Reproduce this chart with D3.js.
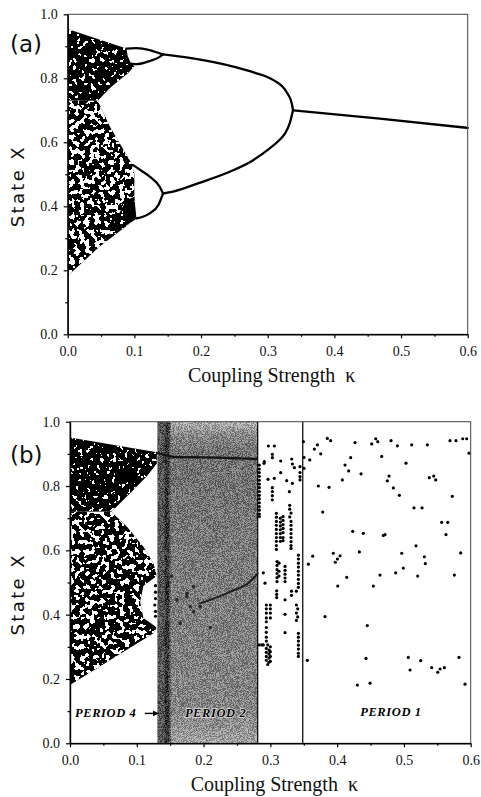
<!DOCTYPE html>
<html>
<head>
<meta charset="utf-8">
<script src="https://cdn.jsdelivr.net/npm/d3@7"></script>
<style>
  body { margin: 0; background: #fff; }
  svg { display: block; }
</style>
</head>
<body>
<div id="chart"></div>
<script>
// Axis ticks
const xTicks = [0, 0.1, 0.2, 0.3, 0.4, 0.5, 0.6];
const xMinorTicks = [0.05, 0.15, 0.25, 0.35, 0.45, 0.55];
const yTicks = [0, 0.2, 0.4, 0.6, 0.8, 1.0];
const yMinorTicks = [0.1, 0.3, 0.5, 0.7, 0.9];

// Panel (a): chaotic band outlines [kappa, X]
const chaosDenseA = [[0, 0.954], [0.088, 0.893], [0.09, 0.87], [0.095, 0.846], [0.1, 0.838],
  [0.09, 0.815], [0.075, 0.79], [0.063, 0.769], [0.045, 0.73], [0, 0.73]];
const chaosSparseA = [[0, 0.73], [0.045, 0.73], [0.063, 0.65], [0.08, 0.59], [0.096, 0.534],
  [0.1, 0.5], [0.1, 0.4], [0.103, 0.362], [0.048, 0.274], [0, 0.183]];
const chaosSolidA = [[0.06, 0.3], [0.103, 0.362], [0.1, 0.43], [0.088, 0.42], [0.07, 0.35]];

// Panel (a): periodic branches
const p4TopHighA = [[0.088, 0.893], [0.103, 0.894], [0.123, 0.888], [0.138, 0.878], [0.143, 0.875]];
const p4TopLowA = [[0.095, 0.846], [0.103, 0.844], [0.123, 0.854], [0.138, 0.867], [0.143, 0.875]];
const p4BotHighA = [[0.098, 0.529], [0.11, 0.512], [0.123, 0.4925], [0.138, 0.461], [0.143, 0.44]];
const p4BotLowA = [[0.103, 0.362], [0.123, 0.378], [0.136, 0.404], [0.143, 0.44]];
const p2UpperA = [[0.143, 0.875], [0.183, 0.864], [0.25, 0.836], [0.28, 0.818], [0.308, 0.795],
  [0.328, 0.758], [0.336, 0.722], [0.338, 0.70]];
const p2LowerA = [[0.143, 0.44], [0.158, 0.446], [0.2, 0.475], [0.243, 0.508], [0.275, 0.54],
  [0.303, 0.581], [0.318, 0.608], [0.326, 0.628], [0.333, 0.659], [0.338, 0.70]];
const p1A = [[0.338, 0.70], [0.468, 0.674], [0.6, 0.645]];

// Panel (b): chaotic band outlines
const chaosDenseB = [[0, 0.951], [0.13, 0.905], [0.13, 0.87], [0.115, 0.83], [0.095, 0.788],
  [0.07, 0.736], [0.062, 0.72], [0, 0.72]];
const chaosSparseB = [[0, 0.72], [0.062, 0.72], [0.085, 0.674], [0.11, 0.611], [0.125, 0.56],
  [0.13, 0.52], [0.11, 0.49], [0.105, 0.44], [0.11, 0.39], [0.13, 0.36], [0.125, 0.342], [0, 0.181]];
const chaosEdgeB = [[0.128, 0.49], [0.128, 0.47], [0.128, 0.45], [0.127, 0.43], [0.128, 0.41], [0.128, 0.395]];

// Panel (b): regions along kappa
const darkBandB = [0.131, 0.151];
const darkCoreB = [0.142, 0.148];
const greyBandB = [0.151, 0.281];
const dividerB = 0.3485;

// Panel (b): period-2 branches and transients inside the grey band
const p2UpperB = [[0.13, 0.903], [0.16, 0.89], [0.2, 0.889], [0.28, 0.884]];
const p2LowerB = [[0.195, 0.435], [0.2396, 0.471], [0.2695, 0.5025], [0.281, 0.528]];
const transientB = [[0.16, 0.446], [0.175, 0.466], [0.195, 0.425], [0.165, 0.373], [0.185, 0.487],
  [0.175, 0.456], [0.18, 0.425], [0.185, 0.409], [0.152, 0.52], [0.21, 0.36]];

// Panel (b): measured states beyond the grey band
const scatterB = [
  [0.2835, 0.865], [0.2835, 0.853], [0.2835, 0.842], [0.2835, 0.83], [0.2835, 0.818], [0.2835, 0.806],
  [0.2835, 0.795], [0.2835, 0.783], [0.2835, 0.771], [0.2835, 0.76], [0.2835, 0.748], [0.2835, 0.736],
  [0.2835, 0.725], [0.2835, 0.713], [0.2835, 0.705], [0.291, 0.876], [0.2835, 0.306], [0.2875, 0.306],
  [0.2895, 0.306], [0.292, 0.498], [0.2895, 0.53],
  [0.294, 0.43], [0.294, 0.418], [0.294, 0.405], [0.3, 0.43], [0.3, 0.418], [0.3, 0.405], [0.294, 0.39],
  [0.294, 0.378], [0.3, 0.39], [0.294, 0.36], [0.294, 0.345], [0.294, 0.33], [0.294, 0.318],
  [0.296, 0.306], [0.294, 0.295], [0.298, 0.29], [0.294, 0.283], [0.298, 0.278], [0.294, 0.27],
  [0.298, 0.265], [0.294, 0.258], [0.298, 0.252], [0.296, 0.245], [0.3, 0.3], [0.3, 0.285],
  [0.3, 0.27], [0.3, 0.255],
  [0.309, 0.715], [0.309, 0.703], [0.309, 0.69], [0.309, 0.678], [0.309, 0.665], [0.309, 0.652],
  [0.309, 0.64], [0.309, 0.628], [0.309, 0.615], [0.309, 0.603], [0.315, 0.7], [0.315, 0.688],
  [0.315, 0.676], [0.315, 0.664], [0.315, 0.652], [0.315, 0.64], [0.315, 0.628], [0.319, 0.705],
  [0.319, 0.693], [0.319, 0.68], [0.319, 0.668], [0.319, 0.655], [0.319, 0.64], [0.319, 0.63],
  [0.31, 0.565], [0.31, 0.553], [0.31, 0.54], [0.31, 0.528], [0.31, 0.515], [0.31, 0.503],
  [0.313, 0.56], [0.313, 0.535], [0.313, 0.52], [0.322, 0.55], [0.322, 0.538], [0.322, 0.526],
  [0.322, 0.514], [0.322, 0.503],
  [0.329, 0.74], [0.329, 0.728], [0.331, 0.716], [0.329, 0.704], [0.331, 0.69], [0.331, 0.678],
  [0.331, 0.665], [0.331, 0.652], [0.331, 0.64], [0.331, 0.627], [0.331, 0.615], [0.331, 0.606],
  [0.342, 0.585], [0.342, 0.573], [0.342, 0.56], [0.342, 0.548], [0.342, 0.535], [0.342, 0.523],
  [0.342, 0.51], [0.342, 0.497], [0.342, 0.485], [0.339, 0.473], [0.339, 0.43], [0.341, 0.418],
  [0.339, 0.405], [0.341, 0.393], [0.339, 0.382], [0.342, 0.342], [0.342, 0.33], [0.342, 0.318],
  [0.342, 0.305], [0.342, 0.293], [0.342, 0.28], [0.342, 0.27],
  [0.303, 0.795], [0.303, 0.783], [0.303, 0.77], [0.303, 0.757],
  [0.322, 0.446], [0.322, 0.401], [0.322, 0.344], [0.3095, 0.474], [0.3095, 0.463], [0.3095, 0.453],
  [0.3317, 0.473], [0.3317, 0.46],
  [0.297, 0.9245], [0.306, 0.9245], [0.303, 0.8986], [0.303, 0.888], [0.2905, 0.8706], [0.3155, 0.8778],
  [0.332, 0.884], [0.333, 0.8685], [0.336, 0.857], [0.3444, 0.86], [0.2965, 0.8209], [0.3059, 0.824],
  [0.3155, 0.8414], [0.3245, 0.8166], [0.333, 0.8085], [0.3285, 0.7824], [0.3444, 0.829],
  [0.3444, 0.819], [0.3444, 0.842],
  [0.3494, 0.938], [0.3504, 0.889], [0.3505, 0.855], [0.359, 0.881], [0.3659, 0.915], [0.3704, 0.928],
  [0.3754, 0.9], [0.3853, 0.948], [0.3903, 0.941], [0.4268, 0.935], [0.4518, 0.931], [0.4578, 0.947],
  [0.4608, 0.938], [0.4807, 0.941], [0.4902, 0.925], [0.5117, 0.928], [0.5351, 0.928], [0.569, 0.941],
  [0.578, 0.941], [0.588, 0.947], [0.594, 0.947], [0.5975, 0.902],
  [0.3719, 0.8], [0.3879, 0.796], [0.3784, 0.719], [0.4118, 0.865], [0.4173, 0.847], [0.4203, 0.888],
  [0.4078, 0.819], [0.4358, 0.838], [0.4667, 0.892], [0.5031, 0.871], [0.4777, 0.831], [0.4752, 0.816],
  [0.538, 0.826], [0.5446, 0.831], [0.5476, 0.819], [0.4842, 0.794], [0.4932, 0.771], [0.5725, 0.768],
  [0.5151, 0.732], [0.5271, 0.732],
  [0.5566, 0.687], [0.5656, 0.687], [0.563, 0.649], [0.4233, 0.659], [0.4392, 0.653], [0.4692, 0.646],
  [0.4717, 0.649], [0.5181, 0.614], [0.4967, 0.591], [0.4333, 0.595], [0.4043, 0.583], [0.5306, 0.58],
  [0.5321, 0.559], [0.585, 0.592], [0.4991, 0.545], [0.4877, 0.53], [0.5206, 0.52], [0.4642, 0.523],
  [0.4143, 0.516], [0.4542, 0.489], [0.5755, 0.523], [0.3569, 0.557], [0.3634, 0.582], [0.3943, 0.591],
  [0.4004, 0.573], [0.3973, 0.563], [0.4009, 0.489],
  [0.3818, 0.394], [0.4452, 0.366], [0.3554, 0.258], [0.4432, 0.264], [0.5066, 0.267], [0.5092, 0.228],
  [0.5251, 0.257], [0.5416, 0.235], [0.5506, 0.221], [0.5541, 0.231], [0.5606, 0.235], [0.5825, 0.267],
  [0.5915, 0.184], [0.4303, 0.181], [0.4493, 0.187]
];

const width = 481;
const height = 797;
const serif = "'Liberation Serif', 'Times New Roman', serif";
const sans = "'DejaVu Sans', sans-serif";

const svg = d3.select("#chart")
  .append("svg")
  .attr("width", width)
  .attr("height", height);

const defs = svg.append("defs");

// white holes cut into a black area, so the chaotic band looks dotted
function speckle(id, freq, cut, seed) {
  const table = d3.range(100).map((i) => (i / 100 >= cut ? 1 : 0)).join(" ");
  const f = defs.append("filter")
    .attr("id", id)
    .attr("filterUnits", "userSpaceOnUse")
    .attr("x", 0).attr("y", 0)
    .attr("width", width).attr("height", height)
    .attr("color-interpolation-filters", "sRGB");
  f.append("feTurbulence")
    .attr("type", "fractalNoise")
    .attr("baseFrequency", freq)
    .attr("numOctaves", 2)
    .attr("seed", seed)
    .attr("result", "noise");
  f.append("feColorMatrix")
    .attr("in", "noise")
    .attr("type", "matrix")
    .attr("values", "0 0 0 0 1  0 0 0 0 1  0 0 0 0 1  0 0 0 1 0")
    .attr("result", "holes");
  f.append("feComponentTransfer")
    .attr("in", "holes")
    .attr("result", "cut")
    .append("feFuncA")
    .attr("type", "discrete")
    .attr("tableValues", table);
  f.append("feComposite")
    .attr("in", "cut")
    .attr("in2", "SourceGraphic")
    .attr("operator", "in");
}
speckle("speckDense", 0.22, 0.63, 3);
speckle("speckSparse", 0.2, 0.54, 7);
speckle("speckSolid", 0.2, 0.7, 9);
speckle("speckDenseB", 0.24, 0.65, 11);
speckle("speckSparseB", 0.2, 0.56, 15);

// fine grain for the shaded bands
const grain = defs.append("filter")
  .attr("id", "grain")
  .attr("filterUnits", "userSpaceOnUse")
  .attr("x", 0).attr("y", 0)
  .attr("width", width).attr("height", height)
  .attr("color-interpolation-filters", "sRGB");
grain.append("feTurbulence")
  .attr("type", "fractalNoise")
  .attr("baseFrequency", 1.4)
  .attr("numOctaves", 1)
  .attr("seed", 5)
  .attr("result", "noise");
grain.append("feColorMatrix")
  .attr("in", "noise")
  .attr("type", "matrix")
  .attr("values", "0 0 0 -6 3.5  0 0 0 -6 3.5  0 0 0 -6 3.5  0 0 0 0 0.28")
  .attr("result", "g");
grain.append("feComposite")
  .attr("in", "g")
  .attr("in2", "SourceGraphic")
  .attr("operator", "in");

const shade = defs.append("linearGradient")
  .attr("id", "greyShade")
  .attr("x1", 0).attr("y1", 0).attr("x2", 0).attr("y2", 1);
[[0, "#c4c4c4"], [0.04, "#8c8c8c"], [0.1, "#6c6c6c"], [0.45, "#7a7a7a"], [0.9, "#868686"], [1, "#adadad"]]
  .forEach(([o, c]) => shade.append("stop").attr("offset", o).attr("stop-color", c));

defs.append("marker")
  .attr("id", "arrow")
  .attr("viewBox", "0 0 10 10")
  .attr("refX", 9).attr("refY", 5)
  .attr("markerWidth", 6).attr("markerHeight", 6)
  .attr("markerUnits", "userSpaceOnUse")
  .attr("orient", "auto")
  .append("path")
  .attr("d", "M0,0 L10,5 L0,10 Z")
  .attr("fill", "#000");

// shared axes, frame and titles for one panel
function drawFrame(x, y, tag, tagY) {
  const g = svg.append("g");
  const [x0, x1] = x.range();
  const [y0, y1] = y.range();

  g.append("rect")
    .attr("x", x0).attr("y", y1)
    .attr("width", x1 - x0).attr("height", y0 - y1)
    .attr("fill", "none")
    .attr("stroke", "#444")
    .attr("stroke-width", 1);

  const bottom = g.append("g")
    .attr("transform", `translate(0,${y0})`)
    .call(d3.axisBottom(x).tickValues(xTicks).tickFormat(d3.format(".1f"))
      .tickSizeInner(4).tickSizeOuter(0).tickPadding(8));
  bottom.append("g")
    .call(d3.axisBottom(x).tickValues(xMinorTicks).tickFormat("").tickSizeInner(2.5).tickSizeOuter(0))
    .select(".domain").remove();

  const left = g.append("g")
    .attr("transform", `translate(${x0},0)`)
    .call(d3.axisLeft(y).tickValues(yTicks).tickFormat(d3.format(".1f"))
      .tickSizeInner(4).tickSizeOuter(0).tickPadding(6));
  left.append("g")
    .call(d3.axisLeft(y).tickValues(yMinorTicks).tickFormat("").tickSizeInner(2.5).tickSizeOuter(0))
    .select(".domain").remove();

  g.selectAll(".domain").attr("stroke", "#000").attr("stroke-width", 1.4);
  g.selectAll(".tick line").attr("stroke", "#000").attr("stroke-width", 1.2);
  g.selectAll(".tick text")
    .attr("fill", "#111")
    .attr("font-family", serif)
    .style("font-family", serif)
    .style("font-size", "14px");

  // axis titles
  g.append("text")
    .attr("x", (x0 + x1) / 2 + 4)
    .attr("y", y0 + 48)
    .attr("text-anchor", "middle")
    .style("font-family", serif)
    .style("font-size", "20px")
    .attr("fill", "#111")
    .text("Coupling Strength\u2002\u03ba");

  g.append("text")
    .attr("transform", `translate(24,${(y0 + y1) / 2 + 13}) rotate(-90)`)
    .attr("text-anchor", "middle")
    .style("font-family", sans)
    .style("font-size", "18px")
    .attr("fill", "#111")
    .attr("textLength", 80)
    .attr("lengthAdjust", "spacing")
    .text("State X");

  g.append("text")
    .attr("x", 10)
    .attr("y", tagY)
    .style("font-family", sans)
    .style("font-size", "23px")
    .attr("fill", "#111")
    .text(tag);
}

function polygon(x, y) {
  return (pts) => d3.line().x((d) => x(d[0])).y((d) => y(d[1]))(pts) + "Z";
}

function branch(g, pts, x, y, color, w) {
  g.append("path")
    .datum(pts)
    .attr("fill", "none")
    .attr("stroke", color)
    .attr("stroke-width", w)
    .attr("stroke-linecap", "round")
    .attr("d", d3.line().x((d) => x(d[0])).y((d) => y(d[1])).curve(d3.curveMonotoneX));
}

function speckled(g, poly, pts, filt) {
  g.append("path").attr("d", poly(pts)).attr("fill", "#000");
  g.append("path").attr("d", poly(pts)).attr("fill", "#fff").attr("filter", `url(#${filt})`);
}

// ---------- Panel (a) ----------
const xA = d3.scaleLinear().domain([0, 0.6]).range([67.7, 467.7]);
const yA = d3.scaleLinear().domain([0, 1]).range([334.3, 14.3]);
const polyA = polygon(xA, yA);
const gA = svg.append("g");

speckled(gA, polyA, chaosDenseA, "speckDense");
speckled(gA, polyA, chaosSparseA, "speckSparse");
speckled(gA, polyA, chaosSolidA, "speckSolid");

[p4TopHighA, p4TopLowA, p4BotHighA, p4BotLowA, p2UpperA, p2LowerA, p1A].forEach((pts) =>
  branch(gA, pts, xA, yA, "#000", 2.3)
);

drawFrame(xA, yA, "(a)", 52);

// ---------- Panel (b) ----------
const xB = d3.scaleLinear().domain([0, 0.6]).range([70, 470.7]);
const yB = d3.scaleLinear().domain([0, 1]).range([743.3, 421.7]);
const polyB = polygon(xB, yB);
const gB = svg.append("g");

// shaded bands
gB.append("rect")
  .attr("x", xB(greyBandB[0])).attr("y", yB(1))
  .attr("width", xB(greyBandB[1]) - xB(greyBandB[0])).attr("height", yB(0) - yB(1))
  .attr("fill", "url(#greyShade)");
gB.append("rect")
  .attr("x", xB(darkBandB[0])).attr("y", yB(1))
  .attr("width", xB(darkBandB[1]) - xB(darkBandB[0])).attr("height", yB(0) - yB(1))
  .attr("fill", "#444");
gB.append("rect")
  .attr("x", xB(darkCoreB[0])).attr("y", yB(1))
  .attr("width", xB(darkCoreB[1]) - xB(darkCoreB[0])).attr("height", yB(0) - yB(1))
  .attr("fill", "#151515");
gB.append("rect")
  .attr("x", xB(darkBandB[0])).attr("y", yB(1))
  .attr("width", xB(greyBandB[1]) - xB(darkBandB[0])).attr("height", yB(0) - yB(1))
  .attr("fill", "#fff")
  .attr("filter", "url(#grain)");

// edges of the shaded band and divider before period 1
[greyBandB[1], dividerB].forEach((k) => {
  gB.append("line")
    .attr("x1", xB(k)).attr("x2", xB(k))
    .attr("y1", yB(1)).attr("y2", yB(0))
    .attr("stroke", "#111")
    .attr("stroke-width", 1.3);
});

// chaotic band
speckled(gB, polyB, chaosDenseB, "speckDenseB");
speckled(gB, polyB, chaosSparseB, "speckSparseB");

// period-2 branches and transients inside the band
branch(gB, p2UpperB, xB, yB, "#151515", 2.4);
branch(gB, p2LowerB, xB, yB, "#1e1e1e", 2);
gB.selectAll("circle.transient")
  .data(transientB)
  .join("circle")
  .attr("class", "transient")
  .attr("cx", (d) => xB(d[0]))
  .attr("cy", (d) => yB(d[1]))
  .attr("r", 1.8)
  .attr("fill", "#2a2a2a");

// measured points
gB.selectAll("circle.pt")
  .data(scatterB.concat(chaosEdgeB))
  .join("circle")
  .attr("class", "pt")
  .attr("cx", (d) => xB(d[0]))
  .attr("cy", (d) => yB(d[1]))
  .attr("r", 1.6)
  .attr("fill", "#000");

// period labels
const labelStyle = (t) =>
  t.style("font-family", serif)
    .style("font-size", "12.5px")
    .style("font-weight", "bold")
    .style("font-style", "italic")
    .style("letter-spacing", "0.6px");

gB.append("text")
  .attr("x", xB(0.0075))
  .attr("y", yB(0.081))
  .attr("fill", "#000")
  .text("PERIOD 4")
  .call(labelStyle);

gB.append("line")
  .attr("x1", xB(0.112)).attr("x2", xB(0.132))
  .attr("y1", yB(0.093)).attr("y2", yB(0.093))
  .attr("stroke", "#000")
  .attr("stroke-width", 1.4)
  .attr("marker-end", "url(#arrow)");

gB.append("text")
  .attr("x", xB(0.218))
  .attr("y", yB(0.081))
  .attr("text-anchor", "middle")
  .attr("fill", "#000")
  .attr("stroke", "#ddd")
  .attr("stroke-width", 1.6)
  .attr("paint-order", "stroke")
  .text("PERIOD 2")
  .call(labelStyle);

gB.append("text")
  .attr("x", xB(0.4805))
  .attr("y", yB(0.084))
  .attr("text-anchor", "middle")
  .attr("fill", "#000")
  .text("PERIOD 1")
  .call(labelStyle);

drawFrame(xB, yB, "(b)", 463);
</script>
</body>
</html>
